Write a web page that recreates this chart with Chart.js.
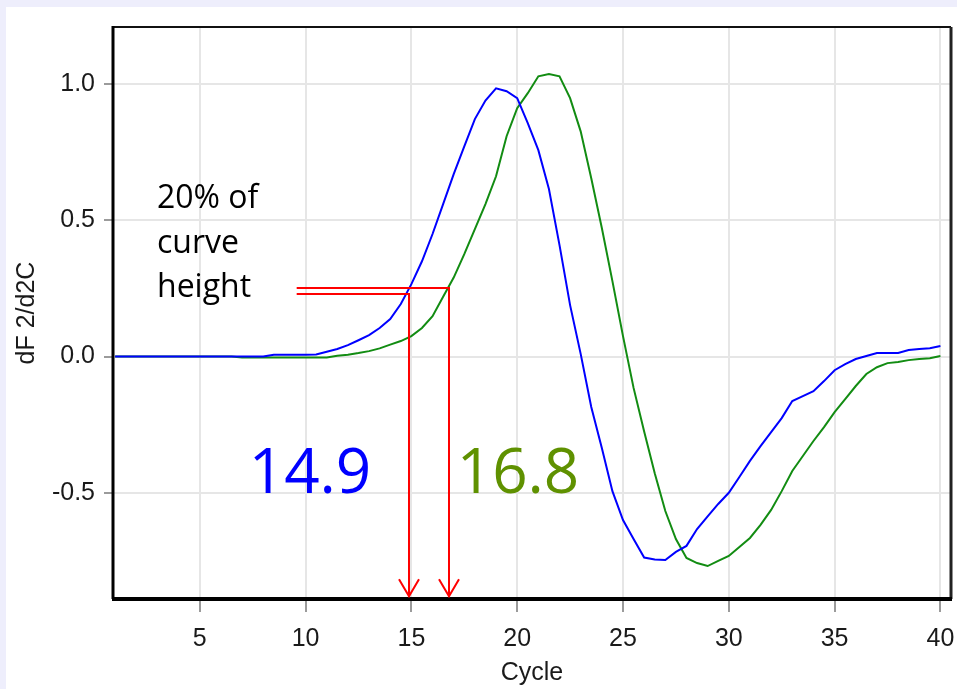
<!DOCTYPE html>
<html>
<head>
<meta charset="utf-8">
<title>dF 2/d2C vs Cycle</title>
<script src="https://cdn.jsdelivr.net/npm/chart.js@4.4.1/dist/chart.umd.min.js"></script>
<style>
  html, body { margin: 0; padding: 0; background: #eeeefc; }
  #wrap { position: absolute; left: 0; top: 0; width: 957px; height: 689px; }
</style>
</head>
<body>
<div id="wrap"><canvas id="chart" width="957" height="689"></canvas></div>
<script>
// cycle numbers (half-cycle sampling)
const cycles = [
  1, 1.5, 2, 2.5, 3, 3.5, 4, 4.5, 5, 5.5, 6, 6.5, 7, 7.5, 8, 8.5, 9, 9.5, 10, 10.5,
  11, 11.5, 12, 12.5, 13, 13.5, 14, 14.5, 15, 15.5, 16, 16.5, 17, 17.5, 18, 18.5, 19, 19.5, 20, 20.5,
  21, 21.5, 22, 22.5, 23, 23.5, 24, 24.5, 25, 25.5, 26, 26.5, 27, 27.5, 28, 28.5, 29, 29.5, 30, 30.5,
  31, 31.5, 32, 32.5, 33, 33.5, 34, 34.5, 35, 35.5, 36, 36.5, 37, 37.5, 38, 38.5, 39, 39.5, 40
];

// second derivative, sample A (blue)
const sampleA = [
  0, 0, 0, 0, 0, 0, 0, 0, 0, 0, 0, 0, 0, 0, 0, 0.007, 0.007, 0.007, 0.007, 0.008,
  0.018, 0.028, 0.042, 0.060, 0.079, 0.105, 0.138, 0.193, 0.266, 0.350, 0.450, 0.560, 0.670, 0.772, 0.872, 0.940, 0.985, 0.974, 0.949, 0.857,
  0.758, 0.615, 0.409, 0.189, 0.010, -0.185, -0.336, -0.494, -0.600, -0.670, -0.738, -0.745, -0.747, -0.717, -0.695, -0.633, -0.587, -0.541, -0.500, -0.442,
  -0.383, -0.329, -0.277, -0.226, -0.163, -0.145, -0.127, -0.090, -0.050, -0.028, -0.009, 0.002, 0.013, 0.013, 0.013, 0.024, 0.028, 0.031, 0.039
];

// second derivative, sample B (green)
const sampleB = [
  0, 0, 0, 0, 0, 0, 0, 0, 0, 0, 0, 0, -0.003, -0.003, -0.003, -0.003, -0.003, -0.003, -0.003, -0.003,
  -0.003, 0.003, 0.007, 0.013, 0.020, 0.030, 0.044, 0.057, 0.075, 0.105, 0.148, 0.220, 0.290, 0.376, 0.468, 0.560, 0.662, 0.809, 0.912, 0.967,
  1.029, 1.037, 1.029, 0.949, 0.827, 0.655, 0.472, 0.277, 0.075, -0.115, -0.275, -0.428, -0.567, -0.670, -0.739, -0.758, -0.769, -0.750, -0.732, -0.699,
  -0.666, -0.618, -0.563, -0.494, -0.420, -0.365, -0.310, -0.259, -0.204, -0.156, -0.108, -0.064, -0.039, -0.024, -0.020, -0.013, -0.009, -0.006, 0.002
];

const xTicks = [5, 10, 15, 20, 25, 30, 35, 40];
const yTicks = [-0.5, 0.0, 0.5, 1.0];

// threshold crossings (Ct) and the threshold levels used for each sample
const ctValues = [14.9, 16.8];
const thresholdLevels = [0.228, 0.252];
const guideStartCycle = 9.58;
const arrowTipLevel = -0.88;
const ctColors = ['#0000ff', '#5f9100'];
const noteLines = ['20% of', 'curve', 'height'];

const pageBackground = {
  id: 'pageBackground',
  beforeDraw(chart) {
    const { ctx, width, height } = chart;
    ctx.save();
    ctx.fillStyle = '#eeeefc';
    ctx.fillRect(0, 0, width, height);
    ctx.fillStyle = '#ffffff';
    ctx.fillRect(6, 7, width - 6, height - 7);
    ctx.restore();
  }
};

const frameAndNotes = {
  id: 'frameAndNotes',
  afterDatasetsDraw(chart) {
    const { ctx, chartArea: a, scales: { x, y } } = chart;
    ctx.save();

    // plot frame: heavier on the left and bottom
    ctx.strokeStyle = '#111';
    ctx.lineWidth = 2;
    ctx.beginPath();
    ctx.moveTo(a.left, a.top);
    ctx.lineTo(a.right, a.top);
    ctx.stroke();
    ctx.lineWidth = 3;
    ctx.strokeStyle = '#222';
    ctx.beginPath();
    ctx.moveTo(a.right, a.top);
    ctx.lineTo(a.right, a.bottom);
    ctx.stroke();
    ctx.strokeStyle = '#000';
    ctx.beginPath();
    ctx.moveTo(a.left, a.top - 1);
    ctx.lineTo(a.left, a.bottom);
    ctx.stroke();
    ctx.lineWidth = 4;
    ctx.beginPath();
    ctx.moveTo(a.left - 1, a.bottom);
    ctx.lineTo(a.right + 1, a.bottom);
    ctx.stroke();

    // threshold guides with arrows down to the cycle axis
    ctx.strokeStyle = '#ff0000';
    ctx.lineWidth = 2;
    const x0 = x.getPixelForValue(guideStartCycle);
    const tip = y.getPixelForValue(arrowTipLevel);
    ctValues.forEach((ct, i) => {
      const px = Math.round(x.getPixelForValue(ct));
      const py = Math.round(y.getPixelForValue(thresholdLevels[i]));
      ctx.beginPath();
      ctx.moveTo(x0, py);
      ctx.lineTo(px, py);
      ctx.lineTo(px, tip);
      ctx.stroke();
      ctx.beginPath();
      ctx.moveTo(px - 10, tip - 17);
      ctx.lineTo(px, tip);
      ctx.lineTo(px + 10, tip - 17);
      ctx.stroke();
    });

    // text notes
    ctx.fillStyle = '#000';
    ctx.font = '32px "Open Sans", sans-serif';
    ctx.textAlign = 'left';
    ctx.textBaseline = 'alphabetic';
    noteLines.forEach((t, i) => ctx.fillText(t, a.left + 44, a.top + 181 + i * 44.5));

    ctx.font = '62px "Open Sans", sans-serif';
    ctx.textAlign = 'center';
    const ctCenters = [a.left + 197, a.left + 405];
    ctValues.forEach((ct, i) => {
      ctx.fillStyle = ctColors[i];
      ctx.fillText(ct.toFixed(1), ctCenters[i], a.top + 466);
    });
    ctx.restore();
  }
};

const axisFont = { family: '"Liberation Sans", Arial, sans-serif', size: 25 };

new Chart(document.getElementById('chart'), {
  type: 'line',
  data: {
    datasets: [
      {
        label: 'A',
        data: cycles.map((c, i) => ({ x: c, y: sampleA[i] })),
        borderColor: '#0000ff',
        borderWidth: 2,
        pointRadius: 0,
        tension: 0
      },
      {
        label: 'B',
        data: cycles.map((c, i) => ({ x: c, y: sampleB[i] })),
        borderColor: '#128c12',
        borderWidth: 2,
        pointRadius: 0,
        tension: 0
      }
    ]
  },
  options: {
    responsive: false,
    animation: false,
    events: [],
    layout: { padding: { top: 27, right: 6, left: 0, bottom: 0 } },
    plugins: { legend: { display: false }, tooltip: { enabled: false } },
    scales: {
      x: {
        type: 'linear',
        min: 0.9,
        max: 40.5,
        afterBuildTicks(scale) { scale.ticks = xTicks.map(v => ({ value: v })); },
        afterFit(scale) { scale.height = 90; scale.paddingLeft = 0; scale.paddingRight = 0; },
        grid: { color: '#e6e6e6', lineWidth: 2, tickColor: '#7a7a7a', tickWidth: 1.5, tickLength: 13 },
        border: { display: false },
        ticks: { color: '#1a1a1a', font: axisFont, padding: 12, maxRotation: 0, autoSkip: false },
        title: { display: true, text: 'Cycle', color: '#1a1a1a', font: axisFont, padding: { top: 0, bottom: 1 } }
      },
      y: {
        min: -0.89,
        max: 1.21,
        afterBuildTicks(scale) { scale.ticks = yTicks.map(v => ({ value: v })); },
        afterFit(scale) { scale.width = 113; scale.paddingTop = 0; scale.paddingBottom = 0; },
        grid: { color: '#e6e6e6', lineWidth: 2, tickColor: '#7a7a7a', tickWidth: 1.5, tickLength: 9 },
        border: { display: false },
        ticks: { color: '#1a1a1a', font: axisFont, padding: 9, callback: v => v.toFixed(1) },
        title: { display: true, text: 'dF 2/d2C', color: '#1a1a1a', font: axisFont, padding: { top: 12, bottom: 0 } }
      }
    }
  },
  plugins: [pageBackground, frameAndNotes]
});
</script>
</body>
</html>
